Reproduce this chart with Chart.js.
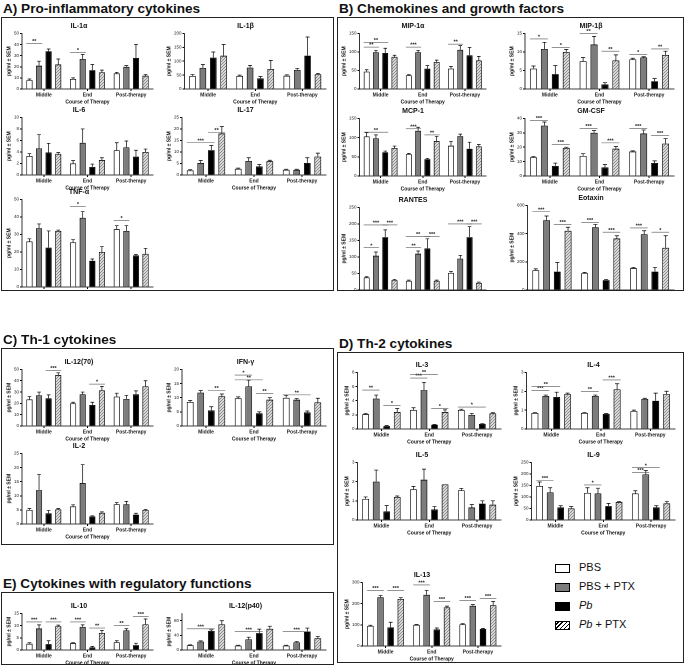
<!DOCTYPE html>
<html>
<head>
<meta charset="utf-8">
<script src="https://cdn.jsdelivr.net/npm/chart.js@4.4.0/dist/chart.umd.min.js"></script>
<style>
  body { margin: 0; width: 685px; height: 666px; position: relative; overflow: hidden; background: #fff;
         font-family: "Liberation Sans", Arial, sans-serif; }
  .ptitle { position: absolute; font-weight: bold; font-size: 13.6px; color: #111; white-space: nowrap; }
  .panel { position: absolute; border: 1.5px solid #222; overflow: hidden; box-sizing: border-box; }
  .panel canvas { position: absolute; }
  .leg { position: absolute; font-size: 11px; color: #111; white-space: nowrap; }
  .leg span { display: inline-block; width: 13px; height: 7px; border: 1.5px solid #000; vertical-align: middle; margin-right: 9px; }
</style>
</head>
<body>

<script>
// categories and series
const groups = ["Middle", "End", "Post-therapy"];
const seriesNames = ["PBS", "PBS + PTX", "Pb", "Pb + PTX"];

// values per group: [PBS, PBS+PTX, Pb, Pb+PTX]; *Hi = top of the SEM bar
const il1aMean = [[8, 21, 34, 22], [9, 27, 17, 15], [14, 20, 28, 12]];
const il1aHi   = [[9, 25, 36, 27], [10, 31, 22, 17], [15, 21, 40, 13]];
const il1bMean = [[47, 76, 113, 120], [47, 77, 38, 72], [48, 69, 120, 53]];
const il1bHi   = [[52, 88, 133, 160], [50, 85, 45, 103], [51, 74, 187, 56]];
const il6Mean  = [[3.3, 4.6, 3.9, 3.7], [2.0, 5.6, 1.4, 2.6], [4.3, 4.8, 3.2, 4.0]];
const il6Hi    = [[3.7, 7.0, 5.5, 3.9], [2.5, 8.0, 1.9, 3.0], [5.6, 5.9, 4.3, 4.5]];
const il17Mean = [[2, 5.2, 10.8, 18], [2.7, 6.1, 3.7, 6], [2.3, 2.3, 5.2, 8]];
const il17Hi   = [[2.3, 6.3, 12.8, 21], [3, 7.5, 4.5, 6.4], [2.5, 2.5, 7.5, 9.5]];
const tnfMean  = [[26, 33.5, 22.5, 32], [25.5, 39.5, 15, 20], [33, 32, 18, 19]];
const tnfHi    = [[27.5, 36, 32, 32.5], [27, 43, 16, 23], [35, 35, 18.5, 22]];

const mip1aMean = [[47, 99, 97, 87], [37, 99, 55, 73], [55, 106, 91, 77]];
const mip1aHi   = [[52, 104, 110, 91], [39, 104, 63, 78], [61, 117, 112, 88]];
const mip1bMean = [[5.5, 10.8, 4, 10], [7.5, 12, 1.2, 7.7], [8, 8.5, 2.1, 9.2]];
const mip1bHi   = [[6.2, 12.6, 6.3, 10.7], [8.5, 14.2, 1.7, 9.2], [8.3, 8.7, 2.8, 10.2]];
const mcp1Mean  = [[103, 98, 62, 73], [57, 118, 44, 91], [79, 104, 71, 77]];
const mcp1Hi    = [[113, 107, 65, 78], [59, 127, 46, 103], [90, 109, 88, 82]];
const gmcsfMean = [[13, 35, 7, 19.5], [14, 30, 6, 19], [17, 29.5, 9, 22.5]];
const gmcsfHi   = [[13.5, 37.5, 9, 20], [15.5, 31.5, 8, 20.5], [17.5, 32, 10.5, 26]];
const rantesMean = [[38, 104, 160, 30], [28, 110, 126, 28], [52, 95, 160, 22]];
const rantesHi   = [[40, 115, 182, 32], [30, 118, 155, 30], [56, 105, 192, 24]];
const eotaxinMean = [[140, 495, 130, 420], [120, 445, 70, 365], [155, 395, 130, 300]];
const eotaxinHi   = [[150, 525, 195, 445], [125, 465, 75, 385], [160, 420, 160, 385]];

const il1270Mean = [[23.5, 27, 24.5, 45], [20, 28, 18.5, 31.5], [26, 24, 28, 35]];
const il1270Hi   = [[26, 30, 27.5, 47], [21, 30, 21, 35], [29, 27, 31, 40]];
const ifngMean   = [[8.5, 11.8, 5.5, 10.5], [9.8, 14, 4.5, 9.3], [10, 9.3, 4.8, 8.3]];
const ifngHi     = [[9, 12.5, 6.8, 11.3], [10.3, 16.2, 5, 10], [10.8, 9.7, 5.3, 9.8]];
const il2Mean    = [[5, 12, 3.8, 5.2], [6.2, 14.5, 2.7, 4], [7, 7, 3.3, 5]];
const il2Hi      = [[5.5, 17.5, 4.8, 5.5], [6.8, 21, 2.9, 4.3], [7.6, 8, 3.8, 5.2]];

const il10Mean    = [[2.6, 8.8, 2.4, 9.8], [2.8, 9.5, 1.1, 7], [3.2, 8, 2, 10.5]];
const il10Hi      = [[3, 10.3, 3.8, 10.2], [3, 10.3, 1.5, 8], [3.8, 8.7, 2.8, 12.7]];
const il12p40Mean = [[13, 23, 52, 70], [12, 29, 46, 58], [12, 21, 50, 32]];
const il12p40Hi   = [[14, 25, 55, 80], [13, 35, 57, 65], [13, 23, 60, 37]];

const il3Mean  = [[2.1, 4.3, 0.4, 2.4], [2.7, 5.5, 0.6, 2.4], [2.7, 2.0, 0.7, 2.2]];
const il3Hi    = [[2.2, 4.8, 0.5, 2.9], [3.0, 6.6, 0.65, 2.7], [2.8, 2.2, 0.75, 2.3]];
const il4Mean  = [[0.85, 1.75, 1.7, 1.85], [0.85, 1.75, 0.8, 2.1], [0.95, 1.6, 1.5, 1.85]];
const il4Hi    = [[0.87, 1.8, 1.95, 1.9], [0.87, 1.8, 0.83, 2.4], [1.0, 1.63, 1.9, 2.0]];
const il5Mean  = [[1.1, 2.0, 0.45, 1.2], [1.6, 2.1, 0.55, 1.85], [1.55, 0.65, 0.85, 0.8]];
const il5Hi    = [[1.2, 2.6, 0.75, 1.25], [1.75, 2.65, 0.7, 1.85], [1.65, 0.8, 1.0, 1.0]];
const il9Mean  = [[148, 120, 55, 50], [118, 115, 60, 78], [115, 198, 55, 72]];
const il9Hi    = [[165, 140, 62, 58], [140, 138, 72, 80], [127, 215, 62, 80]];
const il13Mean = [[95, 230, 88, 222], [100, 242, 78, 182], [102, 190, 80, 192]];
const il13Hi   = [[98, 238, 112, 228], [102, 262, 85, 188], [105, 195, 83, 210]];

// significance brackets: [group, first bar, last bar, value, stars]
const il1aSig = [[0, 0, 1, 41, "**"], [1, 0, 1, 33, "*"]];
const il17Sig = [[0, 0, 2, 14, "***"], [0, 2, 3, 18.5, "**"]];
const tnfSig = [[1, 0, 1, 46, "*"], [2, 0, 1, 38, "*"]];
const mip1aSig = [[0, 0, 1, 113, "**"], [0, 0, 2, 126, "**"], [1, 0, 1, 113, "***"], [2, 0, 1, 121, "**"]];
const mip1bSig = [[0, 0, 1, 13.5, "*"], [0, 2, 3, 11.2, "*"], [1, 0, 1, 15, "**"], [1, 2, 3, 10.2, "**"], [2, 0, 1, 9.3, "*"], [2, 2, 3, 10.8, "**"]];
const mcp1Sig = [[0, 0, 2, 114, "**"], [1, 0, 1, 123, "***"], [1, 2, 3, 107, "**"]];
const gmcsfSig = [[0, 0, 1, 38.5, "***"], [0, 2, 3, 22, "***"], [1, 0, 1, 33, "***"], [1, 2, 3, 23, "***"], [2, 0, 1, 33, "***"], [2, 2, 3, 28, "***"]];
const rantesSig = [[0, 0, 1, 128, "*"], [0, 0, 2, 197, "***"], [0, 2, 3, 197, "***"], [1, 0, 1, 128, "**"], [1, 0, 2, 162, "**"], [1, 2, 3, 162, "***"], [2, 0, 2, 200, "***"], [2, 2, 3, 200, "***"]];
const eotaxinSig = [[0, 0, 1, 555, "***"], [0, 2, 3, 465, "***"], [1, 0, 1, 480, "***"], [1, 2, 3, 410, "***"], [2, 0, 1, 440, "***"], [2, 2, 3, 410, "*"]];
const il1270Sig = [[0, 2, 3, 49, "***"], [1, 2, 3, 37, "*"]];
const ifngSig = [[0, 2, 3, 12.5, "**"], [1, 0, 1, 18, "*"], [1, 0, 2, 16.3, "**"], [1, 2, 3, 11.5, "**"], [2, 0, 2, 11, "**"]];
const il10Sig = [[0, 0, 1, 11.5, "***"], [0, 2, 3, 11.5, "***"], [1, 0, 1, 11.5, "***"], [1, 2, 3, 9, "**"], [2, 0, 1, 10, "**"], [2, 2, 3, 13.8, "***"]];
const il12p40Sig = [[0, 0, 2, 58, "***"], [1, 0, 2, 50, "***"], [2, 0, 2, 50, "***"]];
const il3Sig = [[0, 0, 1, 5.5, "**"], [0, 2, 3, 3.3, "*"], [1, 0, 1, 7.2, "***"], [1, 0, 2, 7.7, "**"], [1, 2, 3, 2.9, "*"], [2, 0, 2, 3.1, "*"]];
const il4Sig = [[0, 0, 1, 2.05, "***"], [0, 0, 2, 2.25, "**"], [1, 0, 1, 2.0, "**"], [1, 2, 3, 2.6, "***"]];
const il9Sig = [[0, 0, 1, 172, "***"], [1, 0, 1, 152, "*"], [2, 0, 1, 207, "***"], [2, 0, 2, 227, "*"]];
const il13Sig = [[0, 0, 1, 262, "***"], [0, 2, 3, 262, "***"], [1, 0, 1, 288, "***"], [1, 2, 3, 210, "***"], [2, 0, 1, 215, "***"], [2, 2, 3, 225, "***"]];

// panels: [left, top, width, height]
const panels = {
  A: { box: [1, 17, 333, 274], title: "A) Pro-inflammatory cytokines", ty: 1 },
  B: { box: [337, 17, 347, 274], title: "B) Chemokines and growth factors", ty: 1 },
  C: { box: [1, 348, 333, 197], title: "C) Th-1 cytokines", ty: 332 },
  D: { box: [337, 352, 347, 311], title: "D) Th-2 cytokines", ty: 336 },
  E: { box: [1, 592, 333, 73], title: "E) Cytokines with regulatory functions", ty: 576 },
};

const family = '"Liberation Sans", Arial, sans-serif';

function makeHatch() {
  const c = document.createElement("canvas");
  c.width = 3; c.height = 3;
  const g = c.getContext("2d");
  g.fillStyle = "#fff"; g.fillRect(0, 0, 3, 3);
  g.strokeStyle = "#111"; g.lineWidth = 0.8;
  g.beginPath();
  g.moveTo(-1, 4); g.lineTo(4, -1);
  g.moveTo(-1, 1); g.lineTo(1, -1);
  g.moveTo(2, 4); g.lineTo(4, 2);
  g.stroke();
  return g.createPattern(c, "repeat");
}
const fills = ["#ffffff", "#7c7c7c", "#000000", makeHatch()];

// error bars + brackets
function marks(sig) {
  return {
    id: "marks",
    afterDatasetsDraw(chart) {
      const ctx = chart.ctx, y = chart.scales.y;
      ctx.save();
      ctx.strokeStyle = "#000";
      ctx.lineWidth = 0.7;
      chart.data.datasets.forEach((ds, s) => {
        chart.getDatasetMeta(s).data.forEach((bar, g) => {
          const top = y.getPixelForValue(ds.hi[g]);
          if (top >= bar.y - 0.3) return;
          const cap = bar.width * 0.3;
          ctx.beginPath();
          ctx.moveTo(bar.x, bar.y); ctx.lineTo(bar.x, top);
          ctx.moveTo(bar.x - cap, top); ctx.lineTo(bar.x + cap, top);
          ctx.stroke();
        });
      });
      ctx.font = "bold 5.5px " + family;
      ctx.textAlign = "center";
      ctx.textBaseline = "bottom";
      ctx.fillStyle = "#222";
      ctx.strokeStyle = "#555";
      ctx.lineWidth = 0.6;
      sig.forEach(([g, a, b, v, txt]) => {
        const A = chart.getDatasetMeta(a).data[g], B = chart.getDatasetMeta(b).data[g];
        const x1 = A.x - A.width / 2, x2 = B.x + B.width / 2, yy = y.getPixelForValue(v);
        ctx.beginPath(); ctx.moveTo(x1, yy); ctx.lineTo(x2, yy); ctx.stroke();
        ctx.fillText(txt, (x1 + x2) / 2, yy + 0.8);
      });
      ctx.restore();
    },
  };
}

function build(panel, box, title, mean, hi, max, step, sig) {
  const p = panels[panel];
  const cv = document.createElement("canvas");
  cv.style.left = (box[0] - p.box[0] - 1.5) + "px";
  cv.style.top = (box[1] - p.box[1] - 1.5) + "px";
  cv.width = box[2]; cv.height = box[3];
  p.el.appendChild(cv);
  const datasets = seriesNames.map((name, s) => ({
    label: name,
    data: mean.map(r => r[s]),
    hi: hi.map(r => r[s]),
    backgroundColor: fills[s],
    borderColor: "#000",
    borderWidth: 0.8,
    categoryPercentage: 0.88,
    barPercentage: 0.64,
  }));
  new Chart(cv, {
    type: "bar",
    data: { labels: groups, datasets },
    options: {
      responsive: false,
      animation: false,
      devicePixelRatio: 2,
      layout: { padding: { left: 0, right: 2, top: 0, bottom: 0 } },
      plugins: {
        legend: { display: false },
        tooltip: { enabled: false },
        title: {
          display: true, text: title, color: "#111",
          font: { family, size: 7, weight: "bold" },
          padding: { top: 0, bottom: 3 },
        },
      },
      scales: {
        x: {
          grid: { drawOnChartArea: false, tickLength: 2, color: "#000", offset: false },
          border: { color: "#000", width: 0.8 },
          ticks: { color: "#222", font: { family, size: 5, weight: "bold" }, padding: 1, maxRotation: 0, autoSkip: false },
          title: { display: true, text: "Course of Therapy", color: "#111", font: { family, size: 5, weight: "bold" }, padding: 0 },
        },
        y: {
          min: 0, max,
          grid: { drawOnChartArea: false, tickLength: 2, color: "#000" },
          border: { color: "#000", width: 0.8 },
          ticks: { stepSize: step, color: "#222", font: { family, size: 4.5 }, padding: 1 },
          title: { display: true, text: "pg/ml ± SEM", color: "#111", font: { family, size: 5, weight: "bold" }, padding: 1 },
        },
      },
    },
    plugins: [marks(sig || [])],
  });
}

// panel frames and titles
Object.keys(panels).forEach(k => {
  const p = panels[k];
  const t = document.createElement("div");
  t.className = "ptitle";
  t.textContent = p.title;
  t.style.left = (p.box[0] + 2) + "px";
  t.style.top = p.ty + "px";
  document.body.appendChild(t);
  const d = document.createElement("div");
  d.className = "panel";
  d.style.left = p.box[0] + "px"; d.style.top = p.box[1] + "px";
  d.style.width = p.box[2] + "px"; d.style.height = p.box[3] + "px";
  document.body.appendChild(d);
  p.el = d;
});

build("A", [5, 22, 150, 83], "IL-1α", il1aMean, il1aHi, 50, 10, il1aSig);
build("A", [165, 22, 163, 83], "IL-1β", il1bMean, il1bHi, 200, 50);
build("A", [5, 106, 150, 85], "IL-6", il6Mean, il6Hi, 10, 2);
build("A", [165, 106, 163, 85], "IL-17", il17Mean, il17Hi, 25, 5, il17Sig);
build("A", [5, 188, 150, 115], "TNF-α", tnfMean, tnfHi, 50, 10, tnfSig);

build("B", [340, 22, 148, 83], "MIP-1α", mip1aMean, mip1aHi, 150, 50, mip1aSig);
build("B", [508, 22, 168, 83], "MIP-1β", mip1bMean, mip1bHi, 15, 5, mip1bSig);
build("B", [340, 107, 148, 85], "MCP-1", mcp1Mean, mcp1Hi, 150, 50, mcp1Sig);
build("B", [508, 107, 168, 85], "GM-CSF", gmcsfMean, gmcsfHi, 40, 10, gmcsfSig);
build("B", [340, 196, 148, 110], "RANTES", rantesMean, rantesHi, 250, 50, rantesSig);
build("B", [508, 194, 168, 112], "Eotaxin", eotaxinMean, eotaxinHi, 600, 200, eotaxinSig);

build("C", [5, 358, 150, 84], "IL-12(70)", il1270Mean, il1270Hi, 50, 10, il1270Sig);
build("C", [165, 358, 163, 84], "IFN-γ", ifngMean, ifngHi, 20, 5, ifngSig);
build("C", [5, 442, 150, 98], "IL-2", il2Mean, il2Hi, 25, 5);

build("E", [5, 602, 150, 64], "IL-10", il10Mean, il10Hi, 15, 5, il10Sig);
build("E", [165, 602, 163, 64], "IL-12(p40)", il12p40Mean, il12p40Hi, 100, 20, il12p40Sig);

build("D", [343, 361, 160, 84], "IL-3", il3Mean, il3Hi, 8, 2, il3Sig);
build("D", [512, 361, 165, 84], "IL-4", il4Mean, il4Hi, 3, 1, il4Sig);
build("D", [343, 451, 160, 85], "IL-5", il5Mean, il5Hi, 3, 1);
build("D", [512, 451, 165, 85], "IL-9", il9Mean, il9Hi, 250, 50, il9Sig);
build("D", [343, 571, 160, 91], "IL-13", il13Mean, il13Hi, 300, 100, il13Sig);

// legend
const swatch = ["#fff", "#7c7c7c", "#000", "repeating-linear-gradient(-45deg, #000 0 1px, #fff 1px 3px)"];
seriesNames.forEach((name, i) => {
  const row = document.createElement("div");
  row.className = "leg";
  row.style.left = "555px";
  row.style.top = (561 + i * 19) + "px";
  row.innerHTML = '<span style="background:' + swatch[i] + '"></span>' + name.replace(/\bPb\b/, "<i>Pb</i>");
  document.body.appendChild(row);
});
</script>
</body>
</html>
